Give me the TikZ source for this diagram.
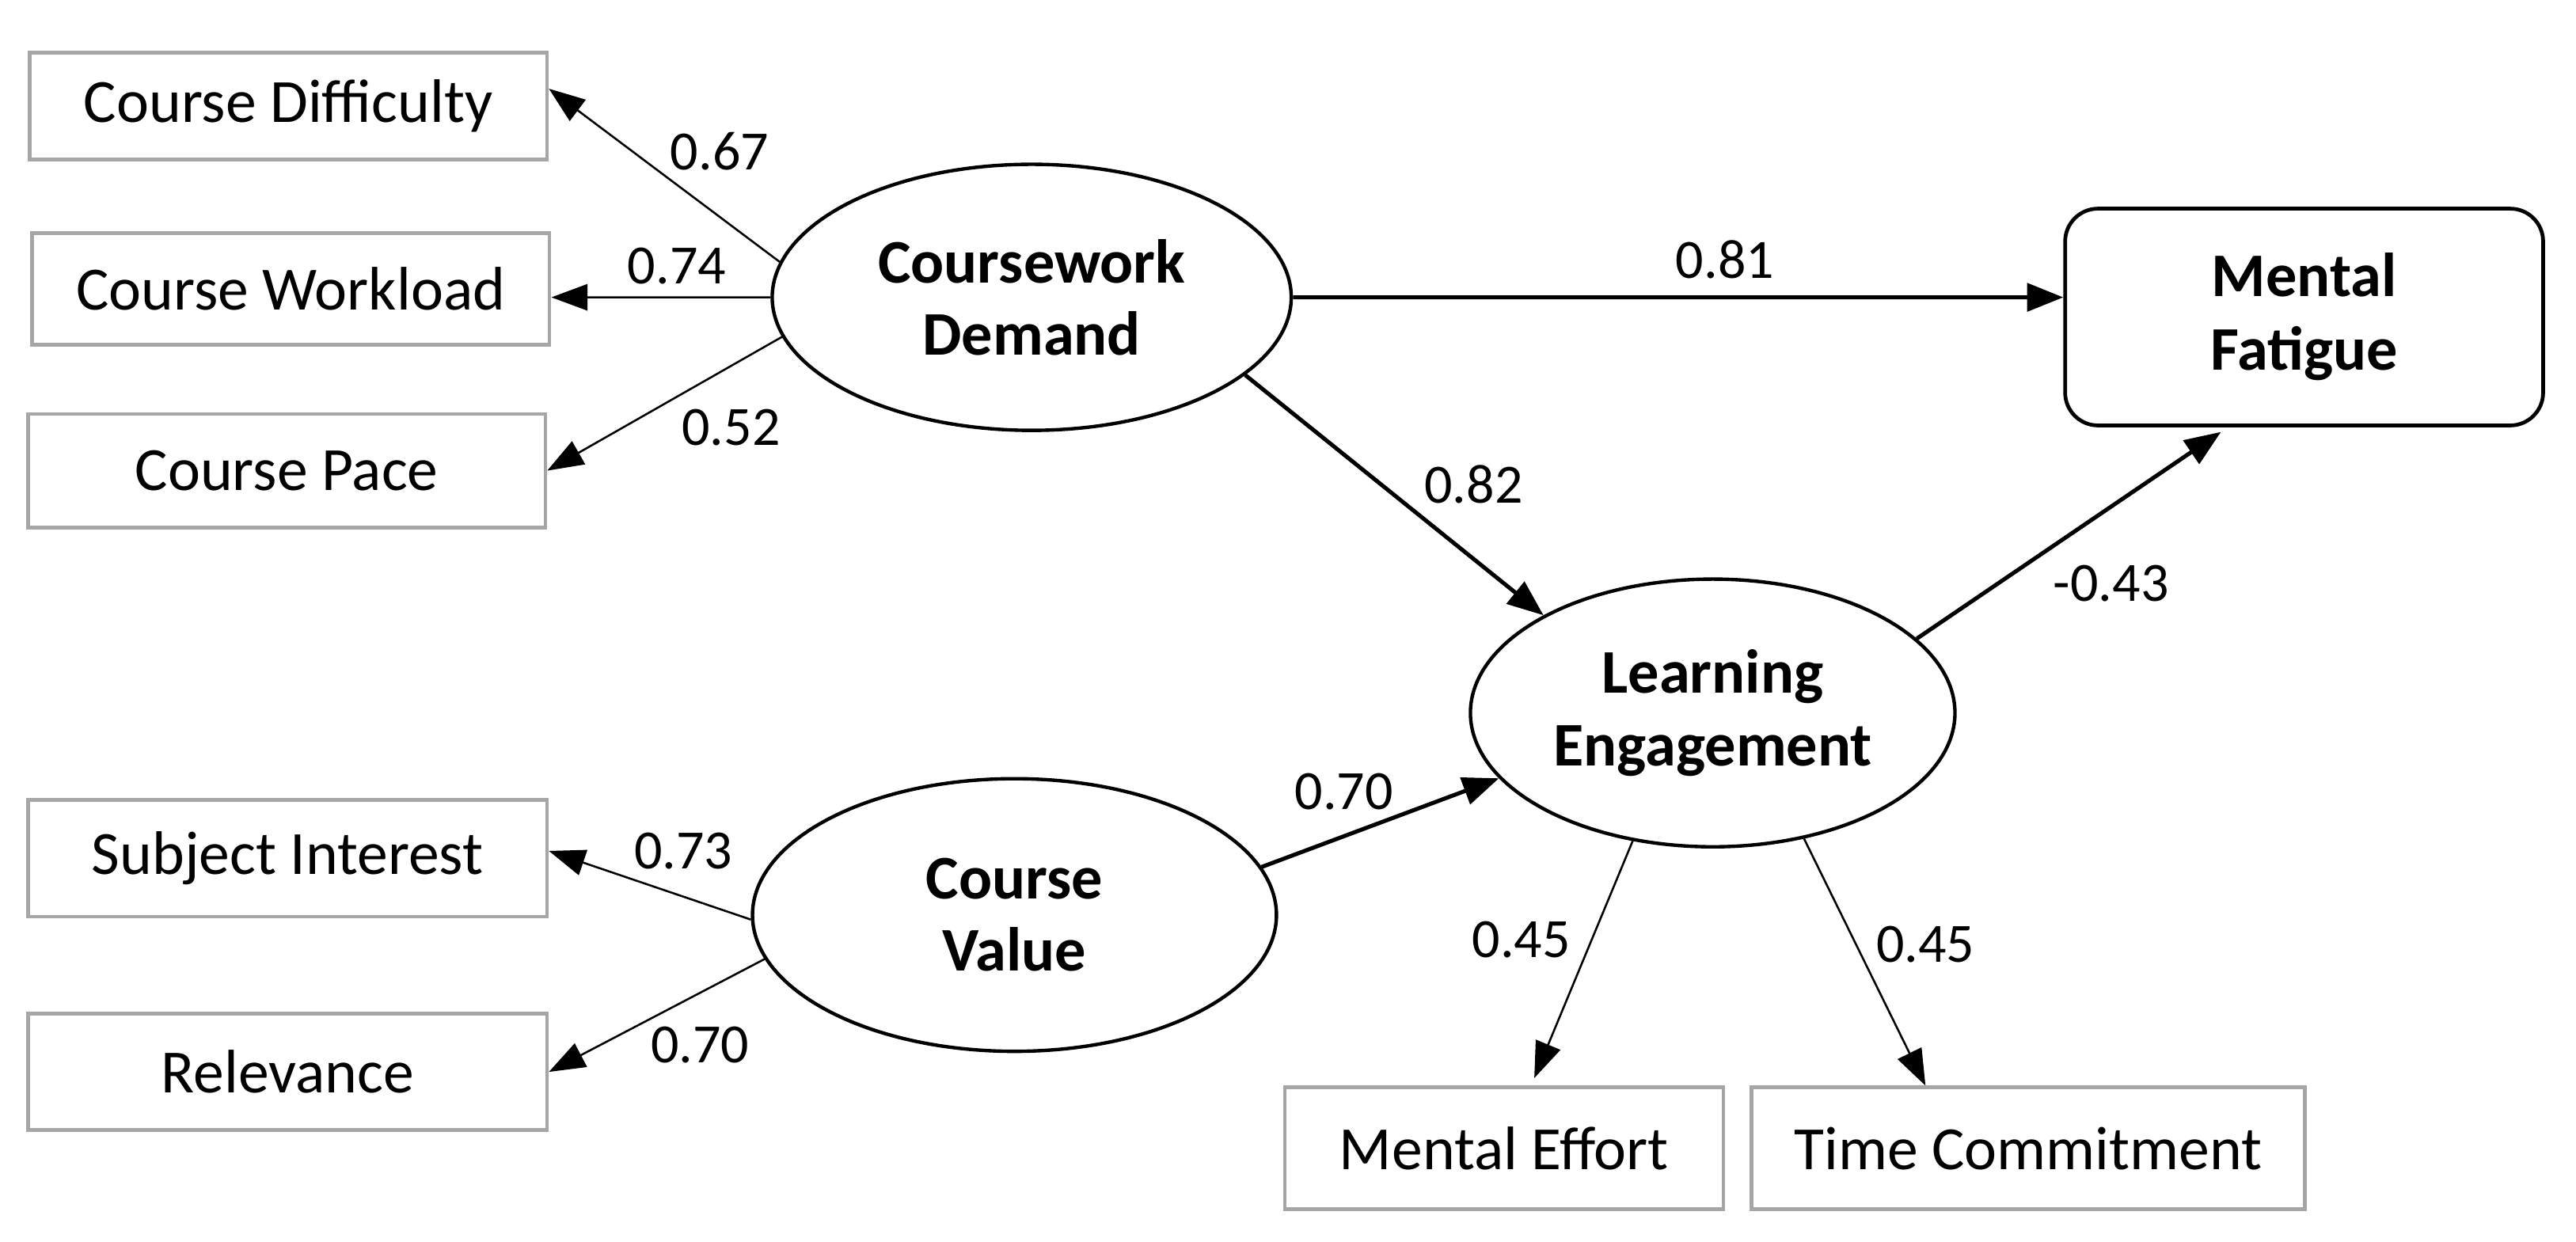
\documentclass[tikz,border=0pt]{standalone}
\usepackage{fontspec}
\setmainfont{Carlito}
\usetikzlibrary{arrows.meta,shapes.geometric}
\definecolor{boxgray}{HTML}{A6A6A6}
\begin{document}
\begin{tikzpicture}[x=0.02cm,y=-0.02cm,
  ind/.style={draw=boxgray,line width=1.3pt,minimum width=6.3cm,minimum height=1.36cm,inner sep=0pt,font=\fontsize{21.3}{25}\selectfont},
  lat/.style={ellipse,draw,line width=1.2pt,inner sep=0pt,align=center,font=\fontsize{21.5}{25}\selectfont\bfseries},
  ldarrow/.style={line width=0.7pt,-{Triangle[length=0.44cm,width=0.32cm]}},
  patharrow/.style={line width=1.4pt,-{Triangle[length=0.44cm,width=0.34cm]}},
  lbl/.style={font=\fontsize{19.2}{22}\selectfont,inner sep=0pt}]
\useasboundingbox[fill=white] (0,0) rectangle (1568,756);

% indicator boxes
\node[ind,minimum height=1.3cm] (cdiff) at (175.5,64.5) {Course Difficulty};
\node[ind,minimum height=1.36cm] (cwork) at (177,176) {Course Workload};
\node[ind,minimum height=1.38cm] (cpace) at (174.5,286.5) {Course Pace};
\node[ind,minimum width=6.32cm,minimum height=1.42cm] (sint) at (175,522.5) {Subject Interest};
\node[ind,minimum width=6.32cm,minimum height=1.42cm] (relv) at (175,652.5) {Relevance};
\node[ind,minimum width=5.34cm,minimum height=1.48cm] (meff) at (915.5,699) {Mental Effort};
\node[ind,minimum width=6.74cm,minimum height=1.48cm] (tcom) at (1234.5,699) {Time Commitment};

% outcome
\node[draw,rounded corners=0.4cm,line width=1.3pt,minimum width=5.82cm,minimum height=2.64cm,align=center,inner sep=0pt,font=\fontsize{21.5}{25.5}\selectfont\bfseries] (mf) at (1402.5,193) {Mental\\Fatigue};

% latent variables
\node[lat,minimum width=6.32cm,minimum height=3.24cm] (cd) at (628,181) {Coursework\\Demand};
\node[lat,minimum width=5.9cm,minimum height=3.26cm] (le) at (1042.5,434) {Learning\\Engagement};
\node[lat,minimum width=6.38cm,minimum height=3.32cm] (cv) at (617.5,557) {Course\\Value};

% loadings
\draw[ldarrow] (cd.172) -- ([yshift=0.21cm]cdiff.east);
\draw[ldarrow] (cd.180) -- ([yshift=-0.1cm]cwork.east);
\draw[ldarrow] (cd.189) -- (cpace.east);
\draw[ldarrow] (cv.181) -- ([yshift=0.09cm]sint.east);
\draw[ldarrow] (cv.190) -- (relv.east);
\draw[ldarrow,shorten >=0.1cm] (le.238) -- ([xshift=0.33cm]meff.north);
\draw[ldarrow] (le.306) -- ([xshift=-1.25cm]tcom.north);

% structural paths
\draw[patharrow] (cd.east) -- ([yshift=0.24cm]mf.west);
\draw[patharrow] (cd.340) -- (le.150);
\draw[patharrow] (cv.11) -- (le.197);
\draw[patharrow,shorten >=0.1cm] (le.20) -- ([xshift=-0.93cm]mf.south);

% labels
\node[lbl] (l1) at (438,92) {0.67};
\node[lbl] (l2) at (412,162) {0.74};
\node[lbl] (l3) at (445,260) {0.52};
\node[lbl] (l4) at (1050,158) {0.81};
\node[lbl] (l5) at (897,295) {0.82};
\node[lbl] (l6) at (818,482) {0.70};
\node[lbl] (l7) at (1285,355) {-0.43};
\node[lbl] (l8) at (416,518) {0.73};
\node[lbl] (l9) at (426,636) {0.70};
\node[lbl] (l10) at (926,572) {0.45};
\node[lbl] (l11) at (1172,575) {0.45};
\end{tikzpicture}
\end{document}
